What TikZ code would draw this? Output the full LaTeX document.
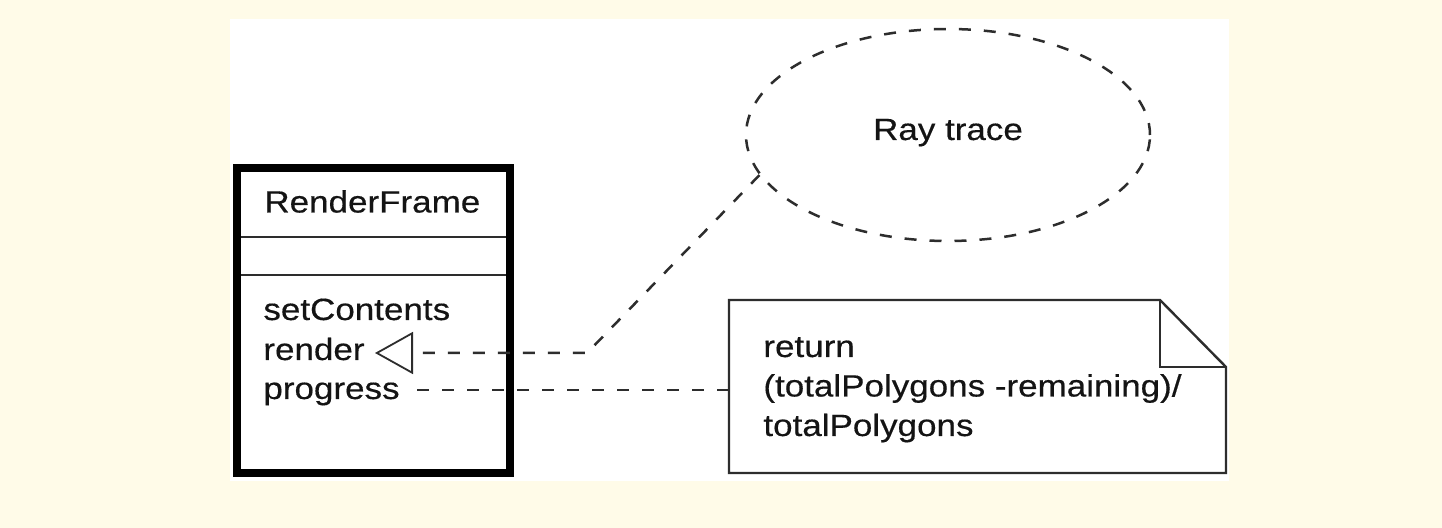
\documentclass[tikz,border=0pt]{standalone}
\usepackage{fontspec}
\setmainfont{Liberation Sans}[FakeStretch=1.14,FakeBold=0.4]
\usetikzlibrary{arrows.meta,shapes.geometric}
\definecolor{cream}{RGB}{255,251,232}
\definecolor{ink}{RGB}{20,20,20}
\definecolor{edge}{RGB}{45,45,45}
\begin{document}
\begin{tikzpicture}[x=0.5pt,y=-0.5pt,
  txt/.style={inner sep=0pt, anchor=base west, text=ink, font=\fontsize{15.35pt}{19.75pt}\selectfont},
  dashline/.style={draw=edge, line width=1.25pt, dash pattern=on 6pt off 6.5pt},
  thinline/.style={draw=edge, line width=1.2pt}]
\fill[cream] (0,0) rectangle (1442,528);
\useasboundingbox (0,0) rectangle (1442,528);
\fill[white] (230,19) rectangle (1229,481);
% class box
\draw[black, line width=4pt] (237,168) rectangle (510,473);
\draw[thinline] (241,237) -- (506,237);
\draw[thinline] (241,275) -- (506,275);
\node[txt] (cname) at (264,212.5) {RenderFrame};
\node[txt] (m1) at (263,320) {setContents};
\node[txt] (m2) at (263,360) {render};
\node[txt] (m3) at (263,399) {progress};
% use case ellipse
\node[ellipse, dashline, minimum width=202pt, minimum height=106pt, inner sep=0pt] (ray) at (948,135) {};
\node[txt, anchor=base] (raytxt) at (948,140) {Ray trace};
% note
\draw[thinline] (729,300) -- (1160,300) -- (1226,367) -- (1226,473) -- (729,473) -- cycle;
\draw[thinline] (1160,300) -- (1160,367) -- (1226,367);
\node[txt] (n1) at (763,357) {return};
\node[txt] (n2) at (763,396.5) {(totalPolygons -remaining)/};
\node[txt] (n3) at (763,436) {totalPolygons};
% connectors
\coordinate (bend) at (587,353);
\coordinate (rtip) at (375,353);
\draw[dashline, -{Triangle[open, length=19pt, width=21pt, line width=0.9pt]}] (ray.192) -- (bend) -- (rtip);
\coordinate (ptail) at (417,390);
\coordinate (noteW) at (729,390);
\draw[dashline] (ptail) -- (noteW);
\end{tikzpicture}
\end{document}
